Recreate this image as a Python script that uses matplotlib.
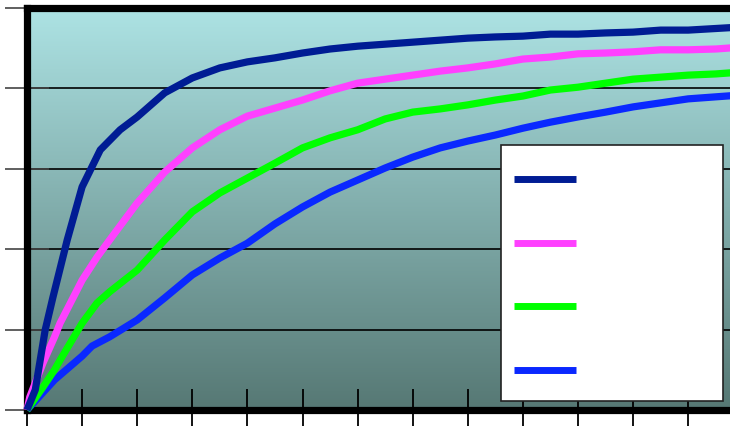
import numpy as np
import matplotlib
matplotlib.use("Agg")
import matplotlib.pyplot as plt
from matplotlib.patches import Rectangle
from matplotlib.lines import Line2D

# ---- data (x in tick units, y in percent) ----
navy_x = [0, 0.15, 0.33, 0.47, 0.73, 1.0, 1.33, 1.69, 2.0, 2.5, 3.0, 3.5, 4.0, 4.5, 5.0, 5.5,
          6.0, 6.5, 7.0, 7.5, 8.0, 8.5, 9.0, 9.5, 10.0, 10.5, 11.0, 11.5, 12.0, 12.5, 13.0]
navy_y = [0, 5, 19.9, 28, 42.3, 55.5, 64.7, 69.7, 72.9, 78.9, 82.6, 85.1, 86.6, 87.6, 88.8, 89.8,
          90.5, 91.0, 91.5, 92.0, 92.5, 92.8, 93.0, 93.5, 93.5, 93.8, 94.0, 94.5, 94.5, 94.9, 95.3]

magenta_x = [0, 0.05, 0.29, 0.5, 0.6, 1.0, 1.27, 1.5, 2.0, 2.5, 3.0, 3.5, 4.0, 4.5, 5.0, 5.5,
             6.0, 6.5, 7.0, 7.5, 8.0, 8.5, 9.0, 9.5, 10.0, 10.5, 11.0, 11.5, 12.0, 12.5, 13.0]
magenta_y = [0, 3.2, 11.7, 18.2, 21.6, 32.3, 38.0, 42.3, 51.5, 59.2, 65.2, 69.7, 73.1, 75.1, 77.1, 79.4,
             81.3, 82.3, 83.3, 84.3, 85.1, 86.1, 87.3, 87.8, 88.6, 88.8, 89.1, 89.6, 89.6, 89.8, 90.3]

green_x = [0, 0.29, 0.5, 0.6, 1.0, 1.27, 1.5, 2.0, 2.5, 3.0, 3.5, 4.0, 4.5, 5.0, 5.5,
           6.0, 6.5, 7.0, 7.5, 8.0, 8.5, 9.0, 9.5, 10.0, 10.5, 11.0, 11.5, 12.0, 12.5, 13.0]
green_y = [0, 5.7, 10.0, 12.4, 21.6, 26.6, 29.4, 34.8, 42.3, 49.3, 54.0, 57.7, 61.4, 65.2, 67.7,
           69.7, 72.4, 74.1, 74.9, 75.9, 77.1, 78.1, 79.6, 80.3, 81.3, 82.3, 82.8, 83.3, 83.6, 84.1]

blue_x = [0, 0.5, 1.0, 1.18, 1.5, 2.0, 2.5, 3.0, 3.5, 4.0, 4.5, 5.0, 5.5,
          6.0, 6.5, 7.0, 7.5, 8.0, 8.5, 9.0, 9.5, 10.0, 10.5, 11.0, 11.5, 12.0, 12.5, 13.0]
blue_y = [0, 7.5, 13.4, 15.9, 18.2, 22.4, 27.9, 33.6, 37.8, 41.5, 46.3, 50.5, 54.2,
          57.2, 60.2, 62.9, 65.2, 66.9, 68.4, 70.1, 71.6, 72.9, 74.1, 75.4, 76.4, 77.4, 77.9, 78.4]

x_ticks = list(range(0, 14))
y_ticks = [0, 20, 40, 60, 80, 100]

series = [
    (navy_x, navy_y, "#001C94"),
    (magenta_x, magenta_y, "#FF40FF"),
    (green_x, green_y, "#00FF00"),
    (blue_x, blue_y, "#0A28FF"),
]

W, H = 730, 426
fig = plt.figure(figsize=(W / 100, H / 100), dpi=100)

# axes in pixel coordinates: x=0 at px 27, 1 tick = 55.1 px; y=0 at px 410, 100 at px 8
x0_px, tick_px = 27, 55.1
xmax = 13.0
ax_left = x0_px / W
ax_width = (xmax * tick_px) / W
ax_bottom = (H - 410) / H
ax_height = (410 - 8) / H
ax = fig.add_axes([ax_left, ax_bottom, ax_width, ax_height])
ax.set_xlim(0, xmax)
ax.set_ylim(0, 100)

# gradient background
top = np.array([173, 227, 228]) / 255
bot = np.array([86, 120, 116]) / 255
t = np.linspace(0, 1, 256)[:, None]
grad = (top * (1 - t) + bot * t)[:, None, :]
ax.imshow(grad, extent=[0, xmax, 0, 100], aspect="auto", zorder=0, origin="upper")

for yv in y_ticks[1:-1]:
    ax.axhline(yv, color="black", lw=1.2, zorder=1)

for xs, ys, c in series[::-1]:
    ax.plot(xs, ys, color=c, lw=5.2, zorder=6, solid_capstyle="butt",
            solid_joinstyle="round", clip_on=False)

ax.set_xticks(x_ticks)
ax.set_yticks(y_ticks)
ax.set_xticklabels([])
ax.set_yticklabels([])
ax.tick_params(axis="x", direction="inout", length=30, width=1.3, color="black")
ax.tick_params(axis="y", direction="inout", length=32, width=1.2, color="#444444")

for side in ["left", "bottom", "top"]:
    ax.spines[side].set_linewidth(5.2)
    ax.spines[side].set_color("black")
ax.spines["right"].set_visible(False)
for sp in ax.spines.values():
    sp.set_zorder(4)

# legend box (no labels), drawn in figure pixel coordinates
def fx(px):
    return px / W

def fy(py):
    return 1 - py / H

box = Rectangle((fx(501), fy(401)), fx(723) - fx(501), fy(145) - fy(401),
                transform=fig.transFigure, facecolor="white", edgecolor="#222222",
                lw=1.2, zorder=10)
fig.patches.append(box)
legend_y = [179, 243, 306, 370]
for (xs, ys, c), ly in zip(series, legend_y):
    fig.lines.append(Line2D([fx(514), fx(576)], [fy(ly), fy(ly)], transform=fig.transFigure,
                            color=c, lw=5.0, solid_capstyle="butt", zorder=11))

fig.savefig("out.png", dpi=100)
